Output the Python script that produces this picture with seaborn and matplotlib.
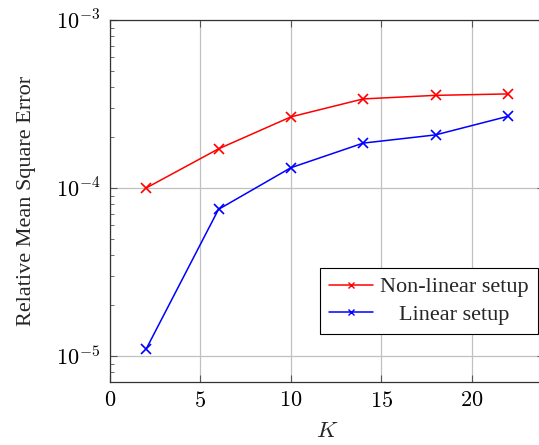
"""Relative MSE vs K for the linear and non-linear setups."""

import matplotlib
matplotlib.use("Agg")
import matplotlib.pyplot as plt
import numpy as np
import pandas as pd
import seaborn as sns
from matplotlib.ticker import FixedLocator, FuncFormatter, LogLocator, NullFormatter
from matplotlib.transforms import Affine2D

k_values = [2, 6, 10, 14, 18, 22]
nonlinear_err = [1.0e-4, 1.71e-4, 2.65e-4, 3.39e-4, 3.56e-4, 3.63e-4]
linear_err = [1.10e-5, 7.46e-5, 1.32e-4, 1.85e-4, 2.07e-4, 2.67e-4]
series_labels = ["Non-linear setup", "Linear setup"]
x_ticks = [0, 5, 10, 15, 20]

sns.set_style("ticks")
plt.rcParams["font.family"] = ["Liberation Serif", "DejaVu Serif"]
plt.rcParams["mathtext.fontset"] = "cm"

df = pd.DataFrame(
    {
        "K": k_values * 2,
        "err": nonlinear_err + linear_err,
        "setup": [series_labels[0]] * len(k_values) + [series_labels[1]] * len(k_values),
    }
)

fig = plt.figure(figsize=(5.39, 4.45), dpi=100)
ax = fig.add_axes([110 / 539, 63 / 445, 434 / 539, 362 / 445])

for label, color in zip(series_labels, ["#ff0000", "#0000ff"]):
    sns.lineplot(
        data=df[df["setup"] == label],
        x="K",
        y="err",
        color=color,
        marker="x",
        markersize=7,
        markeredgewidth=1.2,
        markeredgecolor=color,
        linewidth=1.1,
        label=label,
        ax=ax,
    )

ax.set_yscale("log")
ax.set_xlim(0, 24)
ax.set_ylim(7.0e-6, 1e-3)

ax.xaxis.set_major_locator(FixedLocator(x_ticks))
ax.xaxis.set_major_formatter(FuncFormatter(lambda v, p: r"$%d$" % v))
ax.yaxis.set_major_locator(LogLocator(base=10, numticks=10))
ax.yaxis.set_major_formatter(FuncFormatter(lambda v, p: r"$10^{%d}$" % round(np.log10(v))))
ax.yaxis.set_minor_locator(LogLocator(base=10, subs=np.arange(2, 10), numticks=20))
ax.yaxis.set_minor_formatter(NullFormatter())

ax.grid(True, which="major", color="#c0c0c0", linewidth=0.9)
ax.tick_params(which="both", direction="in", top=True, right=True, labelsize=16, colors="black")
ax.tick_params(which="major", length=5, width=0.8, color="#555555", pad=7)
ax.tick_params(which="minor", length=3, width=0.6, color="#555555")
for sp in ax.spines.values():
    sp.set_color("#333333")
    sp.set_linewidth(0.9)

ax.set_xlabel(r"$K$", fontsize=16.5, labelpad=7)
ax.set_ylabel("Relative Mean Square Error", fontsize=16, labelpad=14)

leg = ax.legend(
    loc="upper left",
    bbox_to_anchor=(0.484, 0.315),
    borderaxespad=0,
    fontsize=16,
    frameon=True,
    fancybox=False,
    edgecolor="black",
    framealpha=1,
    handlelength=2.0,
    handletextpad=0.3,
    borderpad=0.4,
    labelspacing=0.3,
)
leg.get_frame().set_linewidth(0.8)
for h in leg.legend_handles:
    h.set_markersize(5)
    h.set_markeredgewidth(1.0)

# centre the shorter label in its column, like pgfplots does
fig.canvas.draw()
texts = leg.get_texts()
widths = [t.get_window_extent().width for t in texts]
for t, w in zip(texts, widths):
    shift = (max(widths) - w) / 2
    if shift > 0:
        t.set_transform(t.get_transform() + Affine2D().translate(shift, 0))

fig.savefig("out.png", dpi=100)
